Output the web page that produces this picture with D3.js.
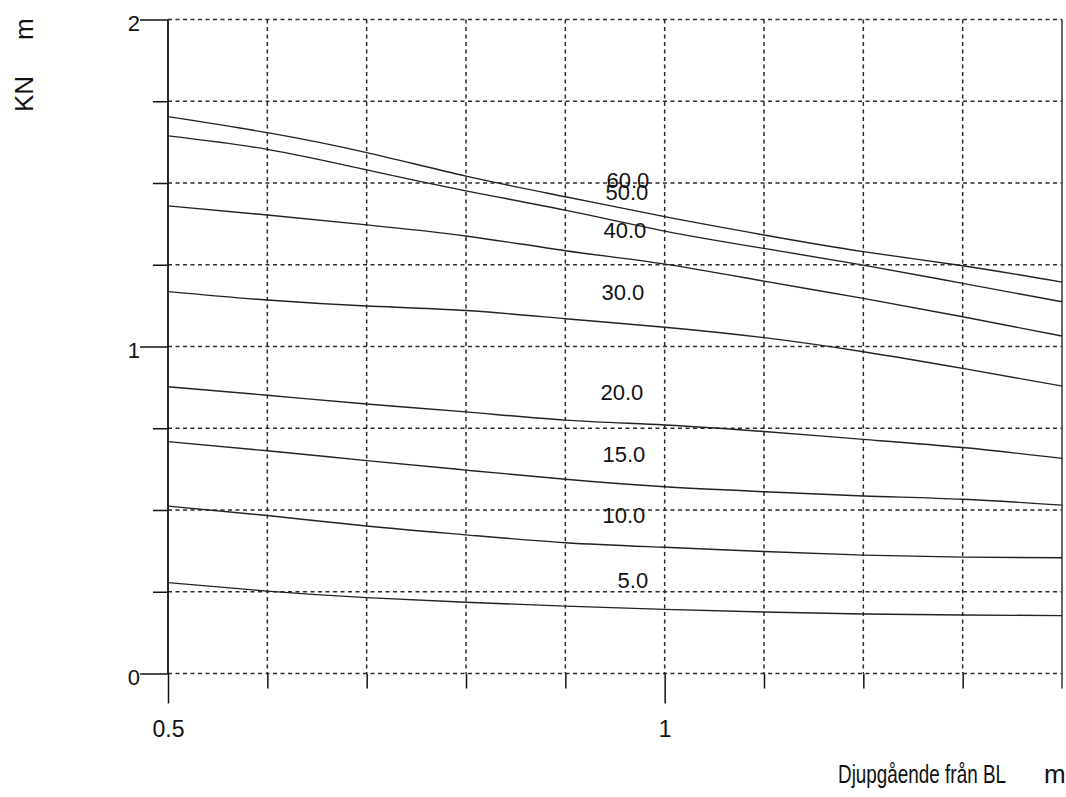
<!DOCTYPE html>
<html><head><meta charset="utf-8">
<script src="https://cdn.jsdelivr.net/npm/d3@7"></script>
<style>body{margin:0;background:#fff}svg{display:block}text{font-family:"Liberation Sans",Arial,sans-serif;fill:#111}</style>
</head><body>
<svg id="c" width="1066" height="797"></svg>
<script>
const draftX = [0.5, 0.6, 0.7, 0.8, 0.9, 1.0, 1.1, 1.2, 1.3, 1.4];
const seriesNames = ["60.0", "50.0", "40.0", "30.0", "20.0", "15.0", "10.0", "5.0"];
const kn60 = [1.703, 1.654, 1.593, 1.521, 1.458, 1.397, 1.341, 1.290, 1.247, 1.197];
const kn50 = [1.644, 1.603, 1.540, 1.476, 1.417, 1.353, 1.300, 1.249, 1.193, 1.137];
const kn40 = [1.430, 1.402, 1.372, 1.338, 1.293, 1.252, 1.200, 1.147, 1.091, 1.032];
const kn30 = [1.168, 1.142, 1.124, 1.110, 1.085, 1.059, 1.027, 0.984, 0.933, 0.879];
const kn20 = [0.877, 0.851, 0.824, 0.800, 0.775, 0.760, 0.740, 0.716, 0.691, 0.658];
const kn15 = [0.709, 0.681, 0.651, 0.622, 0.594, 0.571, 0.556, 0.543, 0.533, 0.515];
const kn10 = [0.512, 0.483, 0.451, 0.424, 0.400, 0.386, 0.373, 0.362, 0.356, 0.354];
const kn5  = [0.278, 0.252, 0.232, 0.218, 0.206, 0.196, 0.188, 0.182, 0.179, 0.177];
const labelX = [0.963, 0.962, 0.960, 0.958, 0.957, 0.959, 0.959, 0.968];
const labelY = [1.509, 1.473, 1.356, 1.165, 0.859, 0.671, 0.485, 0.286];
const xTickLabels = [0.5, 1];
const yTickLabels = [0, 1, 2];
const xGrid = [0.6, 0.7, 0.8, 0.9, 1.0, 1.1, 1.2, 1.3];
const yGrid = [0, 0.25, 0.5, 0.75, 1, 1.25, 1.5, 1.75, 2];
const yLabelParts = ["KN", "m"];
const xLabelParts = ["Djupgående från BL", "m"];

const series = [kn60, kn50, kn40, kn30, kn20, kn15, kn10, kn5];
const svg = d3.select("#c");
const x = d3.scaleLinear().domain([0.5, 1.4]).range([168, 1062]);
const y = d3.scaleLinear().domain([0, 2]).range([673.5, 19.5]);

// grid
const grid = svg.append("g").attr("stroke", "#2a2a2a").attr("stroke-width", 1.5).attr("stroke-dasharray", "4,3.5");
grid.selectAll("line.h").data(yGrid).join("line").attr("class", "h")
  .attr("x1", x(0.5)).attr("x2", x(1.4)).attr("y1", d => y(d)).attr("y2", d => y(d));
grid.selectAll("line.v").data(xGrid).join("line").attr("class", "v")
  .attr("x1", d => x(d)).attr("x2", d => x(d)).attr("y1", y(2)).attr("y2", y(0));

// left axis
const yAxis = d3.axisLeft(y).tickValues(yGrid).tickSize(15).tickFormat("");
const gy = svg.append("g").attr("transform", `translate(${x(0.5)},0)`).call(yAxis);
gy.select(".domain").remove();
gy.selectAll(".tick line").attr("stroke", "#111").attr("stroke-width", 1.5)
  .attr("x2", d => yTickLabels.includes(d) ? -28 : -15);
gy.selectAll(".tick").filter(d => yTickLabels.includes(d)).append("text")
  .attr("x", -28).attr("dy", "0.5em").attr("text-anchor", "end")
  .attr("font-size", 22).attr("fill", "#111").text(d => d);

// bottom axis
const xAxis = d3.axisBottom(x).tickValues([0.5].concat(xGrid)).tickSize(15).tickFormat("");
const gx = svg.append("g").attr("transform", `translate(0,${y(0)})`).call(xAxis);
gx.select(".domain").remove();
gx.selectAll(".tick line").attr("stroke", "#111").attr("stroke-width", 1.5)
  .attr("y2", d => xTickLabels.includes(d) ? 30 : 15);
gx.selectAll(".tick").filter(d => xTickLabels.includes(d)).append("text")
  .attr("y", 63.5).attr("dy", 0).attr("text-anchor", "middle")
  .attr("font-size", 23).attr("fill", "#111").text(d => d);

svg.append("line").attr("x1", x(0.5)).attr("x2", x(0.5)).attr("y1", y(2)).attr("y2", y(0))
  .attr("stroke", "#111").attr("stroke-width", 1.8);
svg.append("line").attr("x1", x(1.4)).attr("x2", x(1.4)).attr("y1", y(2)).attr("y2", y(0) + 15)
  .attr("stroke", "#333").attr("stroke-width", 1.5);

// curves
const line = d3.line().x((d, i) => x(draftX[i])).y(d => y(d)).curve(d3.curveNatural);
svg.append("g").selectAll("path").data(series).join("path")
  .attr("d", line).attr("fill", "none").attr("stroke", "#222").attr("stroke-width", 1.4);

// curve labels
svg.append("g").selectAll("text").data(seriesNames).join("text")
  .attr("x", (d, i) => x(labelX[i])).attr("y", (d, i) => y(labelY[i]))
  .attr("dy", "0.35em").attr("text-anchor", "middle").attr("font-size", 22)
  .text(d => d);

// axis titles
const yt = svg.append("text").attr("transform", "translate(33,112) rotate(-90)").attr("font-size", 26);
yt.append("tspan").text(yLabelParts[0]);
yt.append("tspan").attr("dx", 36).text(yLabelParts[1]);

const xt = svg.append("text").attr("y", 783).attr("font-size", 26);
xt.append("tspan").attr("x", 838).attr("textLength", 168).attr("lengthAdjust", "spacingAndGlyphs").text(xLabelParts[0]);
xt.append("tspan").attr("x", 1044).text(xLabelParts[1]);
</script>
</body></html>
